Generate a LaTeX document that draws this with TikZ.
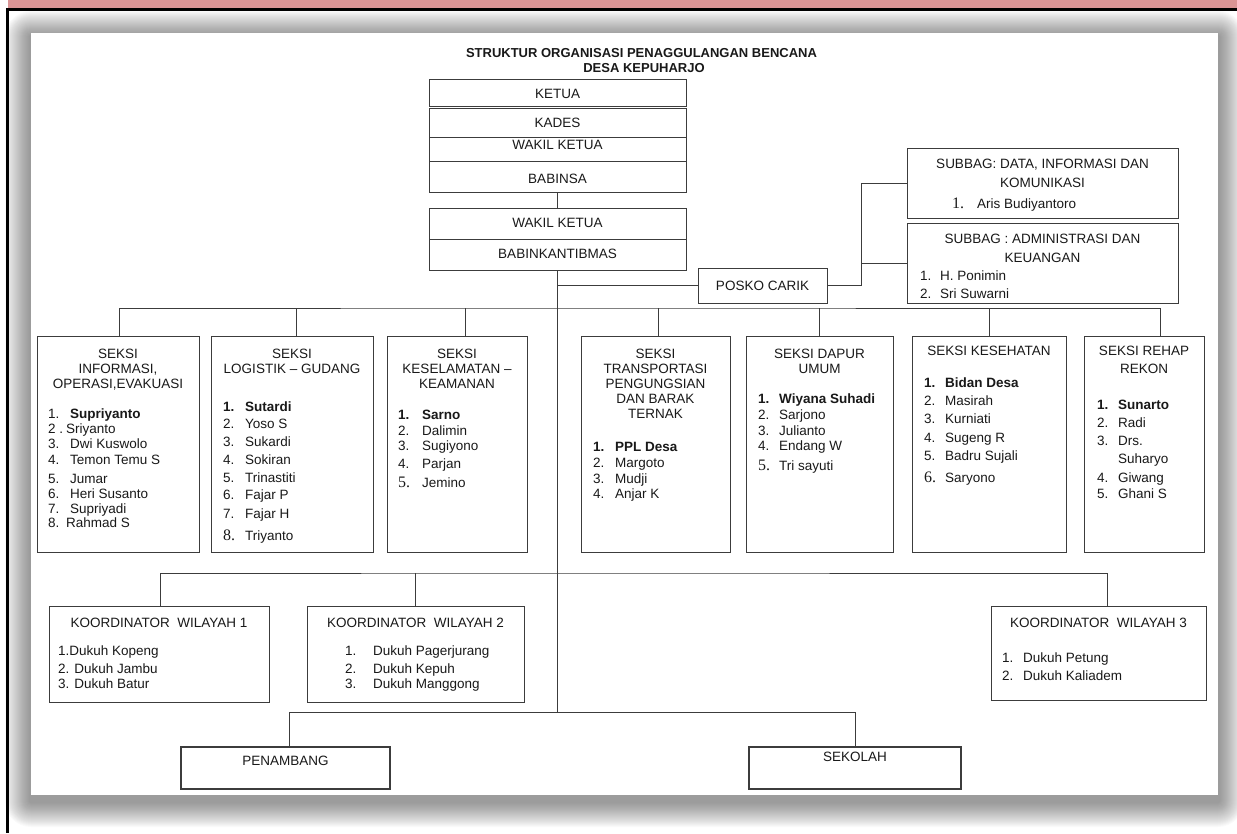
\documentclass[tikz,border=0pt]{standalone}
\usepackage{fontspec}
\setmainfont{Liberation Sans}
\newfontfamily\seriffam{Liberation Serif}
\definecolor{pinkbar}{RGB}{218,148,149}
\definecolor{linec}{RGB}{60,60,60}
\definecolor{textc}{RGB}{25,25,25}
\newcommand{\fs}{\fontsize{13.5}{15}\selectfont}
\newcommand{\sn}[1]{{\seriffam\fontsize{16}{16}\selectfont #1}}
\newcommand{\itm}[6]{\node[lt] (#1a) at (#2,#4) {#5};\node[lt] (#1b) at (#3,#4) {#6};}
\begin{document}
\begin{tikzpicture}[x=1pt,y=-1pt,
  box/.style={draw=linec,line width=0.9pt,fill=white,inner sep=0pt,outer sep=0pt,anchor=north west},
  ct/.style={inner sep=0pt,anchor=base,font=\fs,text=textc},
  lt/.style={inner sep=0pt,anchor=base west,font=\fs,text=textc},
  conn/.style={draw=linec,line width=0.9pt}]
\useasboundingbox (0,0) rectangle (1237,833);
% shadow of the picture
\foreach \i in {0,...,24}{
  \pgfmathsetmacro\rr{26-\i}
  \fill[black,opacity=0.018,rounded corners=\rr pt] ({31-26+\i},{33-22+\i}) rectangle ({1218+26-\i},{795+32-\i});
}
\fill[white] (31,33) rectangle (1218,795);
% page frame
\fill[pinkbar] (8,0) rectangle (1237,8);
\draw[black,line width=2.5pt] (6,9.25) -- (1237,9.25);
\draw[black,line width=2.5pt] (7.25,8) -- (7.25,833);
% title
\node[inner sep=0pt,anchor=base,font=\bfseries\fontsize{13}{15}\selectfont,text=textc] (title1) at (641.5,57.7) {STRUKTUR ORGANISASI PENAGGULANGAN BENCANA};
\node[inner sep=0pt,anchor=base,font=\bfseries\fontsize{13}{15}\selectfont,text=textc] (title2) at (644,72.7) {DESA KEPUHARJO};
% top column
\node[box,minimum width=257pt,minimum height=27pt] (ketua) at (429,79) {};
\node[box,minimum width=257pt,minimum height=29pt] (kades) at (429,108) {};
\node[box,minimum width=257pt,minimum height=24pt] (wakil1) at (429,137) {};
\node[box,minimum width=257pt,minimum height=31pt] (babinsa) at (429,161) {};
\node[box,minimum width=257pt,minimum height=31pt] (wakil2) at (429,208) {};
\node[box,minimum width=257pt,minimum height=31pt] (babink) at (429,239) {};
\node[ct] (tketua) at (557.5,98) {KETUA};
\node[ct] (tkades) at (557.5,127.5) {KADES};
\node[ct] (twakil1) at (557.5,149) {WAKIL KETUA};
\node[ct] (tbabinsa) at (557.5,183) {BABINSA};
\node[ct] (twakil2) at (557.5,227.5) {WAKIL KETUA};
\node[ct] (tbabink) at (557.5,258) {BABINKANTIBMAS};
% posko and subbag
\node[box,minimum width=129pt,minimum height=35pt] (posko) at (698,268) {};
\node[ct] (tposko) at (762.5,290.5) {POSKO CARIK};
\node[box,minimum width=271pt,minimum height=70pt] (datainfo) at (907,148) {};
\node[ct] (td1) at (1042.5,168) {SUBBAG: DATA, INFORMASI DAN};
\node[ct] (td2) at (1042.5,187) {KOMUNIKASI};
\itm{d1}{952}{977}{208}{\sn{1.}}{Aris Budiyantoro}
\node[box,minimum width=271pt,minimum height=80pt] (admin) at (907,223) {};
\node[ct] (ta1) at (1042.5,243) {SUBBAG : ADMINISTRASI DAN};
\node[ct] (ta2) at (1042.5,262) {KEUANGAN};
\itm{a1}{920}{940}{280}{1.}{H. Ponimin}
\itm{a2}{920}{940}{298}{2.}{Sri Suwarni}
% seksi boxes
\node[box,minimum width=162pt,minimum height=216pt] (s1) at (37,336) {};
\node[ct] (s1t1) at (118,358) {SEKSI};
\node[ct] (s1t2) at (118,373) {INFORMASI,};
\node[ct] (s1t3) at (118,388) {OPERASI,EVAKUASI};
\itm{s1i1}{48}{70}{418}{1.}{\textbf{Supriyanto}}
\itm{s1i2}{48}{66}{433}{2 .}{Sriyanto}
\itm{s1i3}{48}{70}{448}{3.}{Dwi Kuswolo}
\itm{s1i4}{48}{70}{464}{4.}{Temon Temu S}
\itm{s1i5}{48}{70}{483}{5.}{Jumar}
\itm{s1i6}{48}{70}{498}{6.}{Heri Susanto}
\itm{s1i7}{48}{70}{513}{7.}{Supriyadi}
\itm{s1i8}{48}{66}{527}{8.}{Rahmad S}
\node[box,minimum width=162pt,minimum height=216pt] (s2) at (211,336) {};
\node[ct] (s2t1) at (292,358) {SEKSI};
\node[ct] (s2t2) at (292,373) {LOGISTIK -- GUDANG};
\itm{s2i1}{223}{245}{411}{\textbf{1.}}{\textbf{Sutardi}}
\itm{s2i2}{223}{245}{428}{2.}{Yoso S}
\itm{s2i3}{223}{245}{446}{3.}{Sukardi}
\itm{s2i4}{223}{245}{464}{4.}{Sokiran}
\itm{s2i5}{223}{245}{482}{5.}{Trinastiti}
\itm{s2i6}{223}{245}{499}{6.}{Fajar P}
\itm{s2i7}{223}{245}{518}{7.}{Fajar H}
\itm{s2i8}{223}{245}{540}{\sn{8.}}{Triyanto}
\node[box,minimum width=140pt,minimum height=216pt] (s3) at (387,336) {};
\node[ct] (s3t1) at (457,358) {SEKSI};
\node[ct] (s3t2) at (457,373) {KESELAMATAN --};
\node[ct] (s3t3) at (457,388) {KEAMANAN};
\itm{s3i1}{398}{422}{419}{\textbf{1.}}{\textbf{Sarno}}
\itm{s3i2}{398}{422}{435}{2.}{Dalimin}
\itm{s3i3}{398}{422}{450}{3.}{Sugiyono}
\itm{s3i4}{398}{422}{468}{4.}{Parjan}
\itm{s3i5}{398}{422}{487}{\sn{5.}}{Jemino}
\node[box,minimum width=149pt,minimum height=216pt] (s4) at (581,336) {};
\node[ct] (s4t1) at (655.5,358) {SEKSI};
\node[ct] (s4t2) at (655.5,373) {TRANSPORTASI};
\node[ct] (s4t3) at (655.5,388) {PENGUNGSIAN};
\node[ct] (s4t4) at (655.5,403) {DAN BARAK};
\node[ct] (s4t5) at (655.5,418) {TERNAK};
\itm{s4i1}{593}{615}{451}{\textbf{1.}}{\textbf{PPL Desa}}
\itm{s4i2}{593}{615}{467}{2.}{Margoto}
\itm{s4i3}{593}{615}{483}{3.}{Mudji}
\itm{s4i4}{593}{615}{498}{4.}{Anjar K}
\node[box,minimum width=147pt,minimum height=216pt] (s5) at (746,336) {};
\node[ct] (s5t1) at (819.5,358) {SEKSI DAPUR};
\node[ct] (s5t2) at (819.5,373) {UMUM};
\itm{s5i1}{758}{779}{403}{\textbf{1.}}{\textbf{Wiyana Suhadi}}
\itm{s5i2}{758}{779}{419}{2.}{Sarjono}
\itm{s5i3}{758}{779}{435}{3.}{Julianto}
\itm{s5i4}{758}{779}{450}{4.}{Endang W}
\itm{s5i5}{758}{779}{470}{\sn{5.}}{Tri sayuti}
\node[box,minimum width=154pt,minimum height=216pt] (s6) at (912,336) {};
\node[ct] (s6t1) at (989,355) {SEKSI KESEHATAN};
\itm{s6i1}{924}{945}{387}{\textbf{1.}}{\textbf{Bidan Desa}}
\itm{s6i2}{924}{945}{405}{2.}{Masirah}
\itm{s6i3}{924}{945}{423}{3.}{Kurniati}
\itm{s6i4}{924}{945}{442}{4.}{Sugeng R}
\itm{s6i5}{924}{945}{460}{5.}{Badru Sujali}
\itm{s6i6}{924}{945}{482}{\sn{6.}}{Saryono}
\node[box,minimum width=120pt,minimum height=216pt] (s7) at (1084,336) {};
\node[ct] (s7t1) at (1144,355) {SEKSI REHAP};
\node[ct] (s7t2) at (1144,373) {REKON};
\itm{s7i1}{1097}{1118}{409}{\textbf{1.}}{\textbf{Sunarto}}
\itm{s7i2}{1097}{1118}{427}{2.}{Radi}
\itm{s7i3}{1097}{1118}{445}{3.}{Drs.}
\node[lt] (s7i3c) at (1118,463) {Suharyo};
\itm{s7i4}{1097}{1118}{482}{4.}{Giwang}
\itm{s7i5}{1097}{1118}{498}{5.}{Ghani S}
% koordinator boxes
\node[box,minimum width=220pt,minimum height=96pt] (k1) at (49,606) {};
\node[ct] (k1t) at (159,627) {KOORDINATOR\ \ WILAYAH 1};
\node[lt] (k1i1) at (58,655) {1.Dukuh Kopeng};
\node[lt] (k1i2) at (58,673) {2. Dukuh Jambu};
\node[lt] (k1i3) at (58,688) {3. Dukuh Batur};
\node[box,minimum width=217pt,minimum height=96pt] (k2) at (307,606) {};
\node[ct] (k2t) at (415.5,627) {KOORDINATOR\ \ WILAYAH 2};
\itm{k2i1}{345}{373}{655}{1.}{Dukuh Pagerjurang}
\itm{k2i2}{345}{373}{673}{2.}{Dukuh Kepuh}
\itm{k2i3}{345}{373}{688}{3.}{Dukuh Manggong}
\node[box,minimum width=215pt,minimum height=94pt] (k3) at (991,606) {};
\node[ct] (k3t) at (1098.5,627) {KOORDINATOR\ \ WILAYAH 3};
\itm{k3i1}{1002}{1023}{662}{1.}{Dukuh Petung}
\itm{k3i2}{1002}{1023}{680}{2.}{Dukuh Kaliadem}
% bottom boxes
\node[box,minimum width=209pt,minimum height=42pt,line width=1.2pt] (pen) at (181,747) {};
\node[ct] (tpen) at (285.5,765) {PENAMBANG};
\node[box,minimum width=212pt,minimum height=42pt,line width=1.2pt] (sek) at (749,747) {};
\node[ct] (tsek) at (855,761) {SEKOLAH};
% connectors
\coordinate (mb) at (557.5,308);
\coordinate (kb) at (557.5,573);
\coordinate (bb) at (557.5,712);
\coordinate (pj) at (861,285.5);
\draw[conn] (babinsa.south) -- (wakil2.north);
\draw[conn] (babink.south) -- (bb);
\draw[conn] (posko.west) -- (posko.west -| mb);
\draw[conn] (posko.east) -- (pj) |- (datainfo.west);
\draw[conn] (pj) |- (admin.west);
\draw[conn] ([xshift=1pt]s1.north) |- (mb) -| ([xshift=16pt]s7.north);
\draw[conn] ([xshift=4pt]s2.north) -- ([xshift=4pt]s2.north |- mb);
\draw[conn] ([xshift=8pt]s3.north) -- ([xshift=8pt]s3.north |- mb);
\draw[conn] ([xshift=2.5pt]s4.north) -- ([xshift=2.5pt]s4.north |- mb);
\draw[conn] (s5.north) -- (s5.north |- mb);
\draw[conn] (s6.north) -- (s6.north |- mb);
\draw[conn] ([xshift=1pt]k1.north) |- (kb) -| ([xshift=8.5pt]k3.north);
\draw[conn] (k2.north) -- (k2.north |- kb);
\draw[conn] ([xshift=3.5pt]pen.north) |- (bb) -| (sek.north);
\end{tikzpicture}
\end{document}
